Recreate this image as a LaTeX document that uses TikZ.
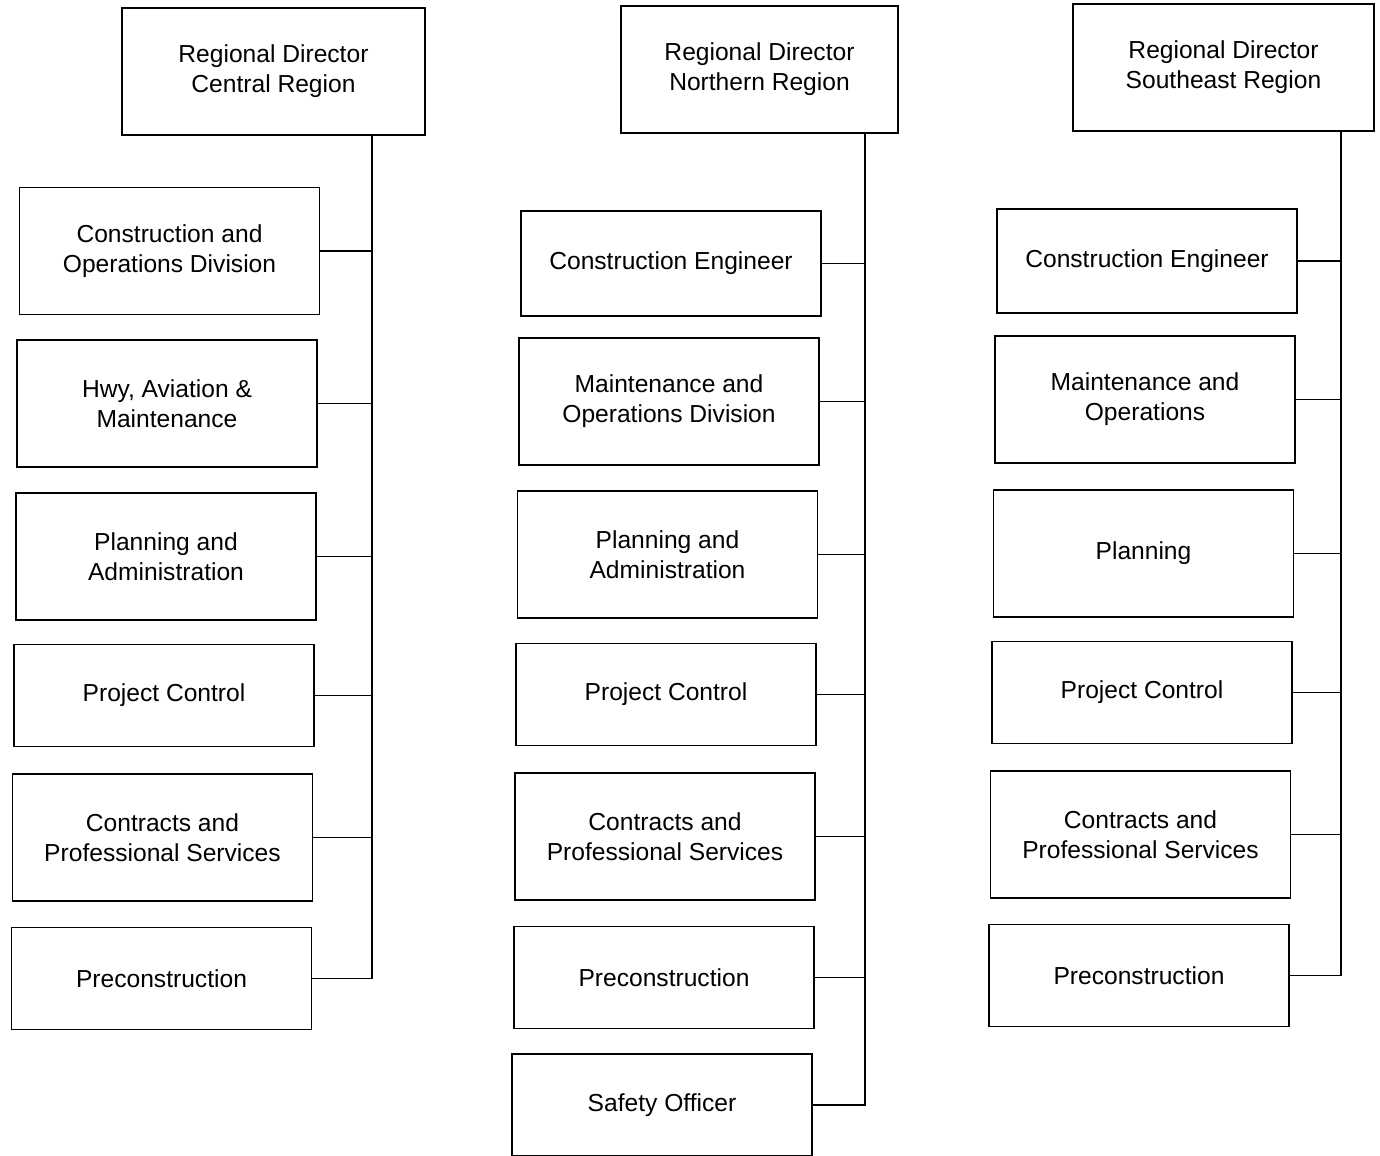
\documentclass[tikz,border=0pt]{standalone}
\usepackage{fontspec}
\setmainfont{Liberation Sans}
\usepackage{tikz}
\usetikzlibrary{positioning}

\begin{document}
\begin{tikzpicture}[
            x=0.02cm, y=-0.02cm,
            block/.style={rectangle, draw, line width=0.9pt, align=center, inner sep=0pt,
                          minimum width=6cm, minimum height=2.54cm,
                          font=\fontsize{14}{17}\selectfont},
            lowblock/.style={block, minimum height=2.04cm},
            link/.style={line width=0.9pt}
        ]
        \useasboundingbox (0,0) rectangle (1380,1156);

        % central region
        \node[block, minimum width=6.06cm] (cendir) at (273.5,71.5) {Regional Director\\Central Region};
        \node[block] (cencon) at (169.5,251) {Construction and\\Operations Division};
        \node[block] (cenhwy) at (167,403.5) {Hwy, Aviation \&\\Maintenance};
        \node[block] (cenplan) at (166,556.5) {Planning and\\Administration};
        \node[lowblock] (cenproj) at (164,695.5) {Project Control};
        \node[block] (cencontr) at (162.5,837.5) {Contracts and\\Professional Services};
        \node[lowblock] (cenpre) at (161.5,978.5) {Preconstruction};
        \coordinate (cenbus) at (372,0);

        \draw[link] (cendir.south -| cenbus) |- (cenpre.east);
        \draw[link] (cencon.east) -- (cencon.east -| cenbus);
        \draw[link] (cenhwy.east) -- (cenhwy.east -| cenbus);
        \draw[link] (cenplan.east) -- (cenplan.east -| cenbus);
        \draw[link] (cenproj.east) -- (cenproj.east -| cenbus);
        \draw[link] (cencontr.east) -- (cencontr.east -| cenbus);

        % northern region
        \node[block, minimum width=5.54cm] (nordir) at (759.5,69.5) {Regional Director\\Northern Region};
        \node[lowblock, minimum height=2.1cm] (norcon) at (671,263.5) {Construction Engineer};
        \node[block] (normaint) at (669,401.5) {Maintenance and\\Operations Division};
        \node[block] (norplan) at (667.5,554.5) {Planning and\\Administration};
        \node[lowblock] (norproj) at (666,694.5) {Project Control};
        \node[block] (norcontr) at (665,836.5) {Contracts and\\Professional Services};
        \node[lowblock] (norpre) at (664,977.5) {Preconstruction};
        \node[lowblock] (norsafe) at (662,1105) {Safety Officer};
        \coordinate (norbus) at (865,0);

        \draw[link] (nordir.south -| norbus) |- (norsafe.east);
        \draw[link] (norcon.east) -- (norcon.east -| norbus);
        \draw[link] (normaint.east) -- (normaint.east -| norbus);
        \draw[link] (norplan.east) -- (norplan.east -| norbus);
        \draw[link] (norproj.east) -- (norproj.east -| norbus);
        \draw[link] (norcontr.east) -- (norcontr.east -| norbus);
        \draw[link] (norpre.east) -- (norpre.east -| norbus);

        % southeast region
        \node[block, minimum width=6.02cm] (sedir) at (1223.5,67.5) {Regional Director\\Southeast Region};
        \node[lowblock, minimum height=2.08cm] (secon) at (1147,261) {Construction Engineer};
        \node[block] (semaint) at (1145,399.5) {Maintenance and\\Operations};
        \node[block] (seplan) at (1143.5,553.5) {Planning};
        \node[lowblock] (seproj) at (1142,692.5) {Project Control};
        \node[block] (secontr) at (1140.5,834.5) {Contracts and\\Professional Services};
        \node[lowblock] (sepre) at (1139,975.5) {Preconstruction};
        \coordinate (sebus) at (1341,0);

        \draw[link] (sedir.south -| sebus) |- (sepre.east);
        \draw[link] (secon.east) -- (secon.east -| sebus);
        \draw[link] (semaint.east) -- (semaint.east -| sebus);
        \draw[link] (seplan.east) -- (seplan.east -| sebus);
        \draw[link] (seproj.east) -- (seproj.east -| sebus);
        \draw[link] (secontr.east) -- (secontr.east -| sebus);

    \end{tikzpicture}
\end{document}
